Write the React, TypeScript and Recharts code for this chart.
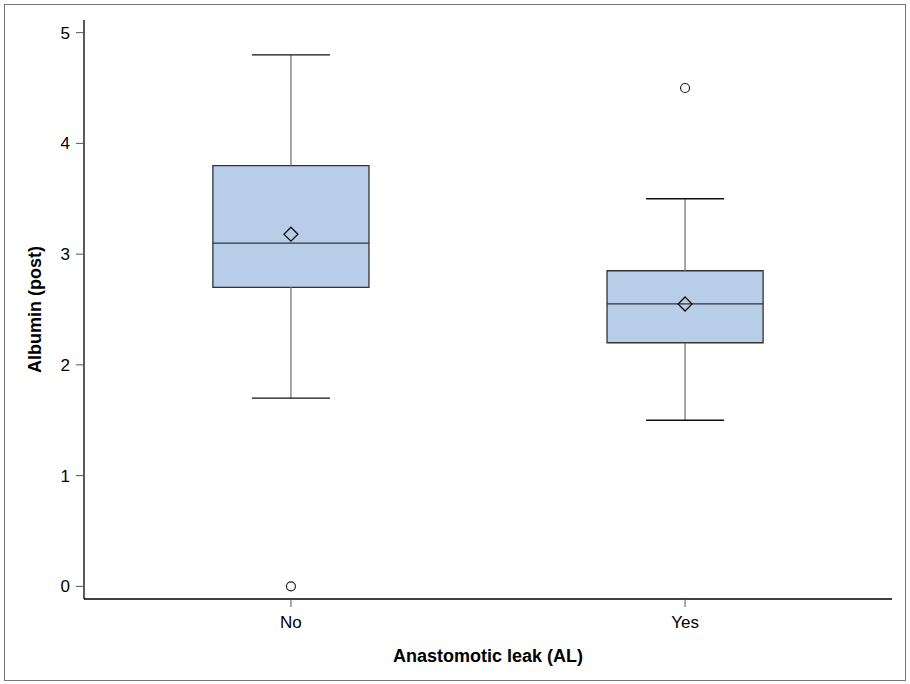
import { ComposedChart, XAxis, YAxis, ReferenceArea, ReferenceLine, Scatter, Label } from "recharts"

const GROUPS = ["No", "Yes"]
const WHISKER_LOW = [1.7, 1.5]
const Q1 = [2.7, 2.2]
const MEDIAN = [3.1, 2.55]
const Q3 = [3.8, 2.85]
const WHISKER_HIGH = [4.8, 3.5]
const MEANS = [3.18, 2.55]
const OUTLIERS = [
  { x: 0, y: 0 },
  { x: 1, y: 4.5 },
]
const Y_TICKS = [0, 1, 2, 3, 4, 5]

const BOX_HALF = 0.198
const CAP_HALF = 0.099
const FONT = "'Liberation Sans', Arial, sans-serif"

const meanData = MEANS.map((y, x) => ({ x, y }))

function Diamond(props: any) {
  const { cx, cy } = props
  const s = 7
  return (
    <polygon
      points={`${cx},${cy - s} ${cx + s},${cy} ${cx},${cy + s} ${cx - s},${cy}`}
      fill="none"
      stroke="#111"
      strokeWidth={1.3}
    />
  )
}

function Ring(props: any) {
  const { cx, cy } = props
  return <circle cx={cx} cy={cy} r={4.5} fill="#fff" stroke="#222" strokeWidth={1.2} />
}

export default function App() {
  return (
    <div style={{ position: "relative", width: 910, height: 684, fontFamily: FONT }}>
      <style>{`body{margin:0}`}</style>
      <div
        style={{
          position: "absolute",
          left: 4,
          top: 4,
          width: 900,
          height: 675,
          border: "1px solid #777",
        }}
      />
      <div style={{ position: "absolute", left: 0, top: 0 }}>
        <ComposedChart width={910} height={684} margin={{ top: 20, right: 18, bottom: 0, left: 0 }}>
          <XAxis
            xAxisId="top"
            orientation="top"
            type="number"
            domain={[-0.525, 1.525]}
            height={0}
            tick={false}
            tickLine={false}
            axisLine={{ stroke: "#bbb" }}
          />
          <YAxis
            yAxisId="right"
            orientation="right"
            type="number"
            domain={[-0.114, 5.114]}
            width={0}
            tick={false}
            tickLine={false}
            axisLine={{ stroke: "#111" }}
          />
          <XAxis
            dataKey="x"
            type="number"
            domain={[-0.525, 1.525]}
            allowDataOverflow
            ticks={[0, 1]}
            tickFormatter={(v: number) => GROUPS[v] ?? ""}
            height={85}
            tickSize={8}
            tickMargin={9}
            axisLine={{ stroke: "#000", strokeWidth: 1.3 }}
            tickLine={{ stroke: "#555" }}
            tick={{ fill: "#000", fontSize: 17, fontFamily: FONT }}
          >
            <Label
              value="Anastomotic leak (AL)"
              position="insideBottom"
              offset={22}
              style={{ fontSize: 18, fontWeight: "bold", fill: "#000", fontFamily: FONT }}
            />
          </XAxis>
          <YAxis
            dataKey="y"
            type="number"
            domain={[-0.114, 5.114]}
            allowDataOverflow
            ticks={Y_TICKS}
            width={84}
            tickSize={8}
            tickMargin={6}
            axisLine={{ stroke: "#000", strokeWidth: 1.3 }}
            tickLine={{ stroke: "#555" }}
            tick={{ fill: "#000", fontSize: 17, fontFamily: FONT }}
          >
            <Label
              value="Albumin (post)"
              angle={-90}
              position="insideLeft"
              offset={35}
              style={{ fontSize: 18, fontWeight: "bold", fill: "#000", fontFamily: FONT, textAnchor: "middle" }}
            />
          </YAxis>

          {GROUPS.map((g, i) => (
            <ReferenceArea
              key={`box-${g}`}
              x1={i - BOX_HALF}
              x2={i + BOX_HALF}
              y1={Q1[i]}
              y2={Q3[i]}
              fill="#b8cee8"
              fillOpacity={1}
              stroke="#333"
              strokeWidth={1.3}
            />
          ))}
          {GROUPS.map((g, i) => (
            <ReferenceLine
              key={`wh-hi-${g}`}
              segment={[
                { x: i, y: Q3[i] },
                { x: i, y: WHISKER_HIGH[i] },
              ]}
              stroke="#777"
              strokeWidth={1.3}
            />
          ))}
          {GROUPS.map((g, i) => (
            <ReferenceLine
              key={`wh-lo-${g}`}
              segment={[
                { x: i, y: WHISKER_LOW[i] },
                { x: i, y: Q1[i] },
              ]}
              stroke="#777"
              strokeWidth={1.3}
            />
          ))}
          {GROUPS.map((g, i) => (
            <ReferenceLine
              key={`cap-hi-${g}`}
              segment={[
                { x: i - CAP_HALF, y: WHISKER_HIGH[i] },
                { x: i + CAP_HALF, y: WHISKER_HIGH[i] },
              ]}
              stroke="#111"
              strokeWidth={1.3}
            />
          ))}
          {GROUPS.map((g, i) => (
            <ReferenceLine
              key={`cap-lo-${g}`}
              segment={[
                { x: i - CAP_HALF, y: WHISKER_LOW[i] },
                { x: i + CAP_HALF, y: WHISKER_LOW[i] },
              ]}
              stroke="#111"
              strokeWidth={1.3}
            />
          ))}
          {GROUPS.map((g, i) => (
            <ReferenceLine
              key={`med-${g}`}
              segment={[
                { x: i - BOX_HALF, y: MEDIAN[i] },
                { x: i + BOX_HALF, y: MEDIAN[i] },
              ]}
              stroke="#333"
              strokeWidth={1.3}
            />
          ))}

          <Scatter data={meanData} dataKey="y" shape={<Diamond />} isAnimationActive={false} />
          <Scatter data={OUTLIERS} dataKey="y" shape={<Ring />} isAnimationActive={false} />
        </ComposedChart>
      </div>
    </div>
  )
}
